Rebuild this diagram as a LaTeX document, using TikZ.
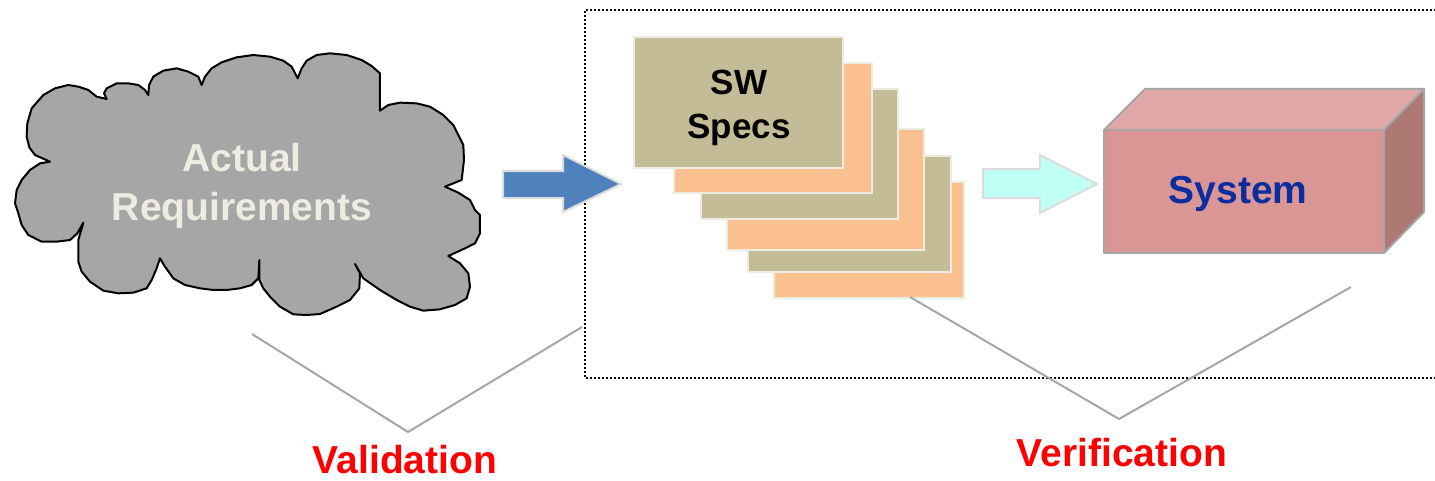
\documentclass[tikz,border=0pt]{standalone}
\usepackage{fontspec}
\setmainfont{Liberation Sans}
\definecolor{cloudgray}{HTML}{A6A6A6}
\definecolor{cream}{HTML}{EEECE1}
\definecolor{olivesheet}{HTML}{C4BC97}
\definecolor{peach}{HTML}{FAC090}
\definecolor{arrowblue}{HTML}{4F81BD}
\definecolor{arrowcyan}{HTML}{C0FFF6}
\definecolor{arrowedge}{HTML}{DCDCDC}
\definecolor{boxfront}{HTML}{D99694}
\definecolor{boxtop}{HTML}{E0A9A7}
\definecolor{boxside}{HTML}{AE7873}
\definecolor{boxedge}{HTML}{A6A6A6}
\definecolor{sysblue}{HTML}{0A2DA0}
\definecolor{vgray}{HTML}{A6A6A6}
\begin{document}
\begin{tikzpicture}[x=0.5pt,y=-0.5pt,
  sheetA/.style={fill=olivesheet,draw=cream,line width=1pt},
  sheetB/.style={fill=peach,draw=cream,line width=1pt},
  vline/.style={draw=vgray,line width=1pt},
  blockarrow/.style={draw=arrowedge,line width=1pt},
  lbl/.style={text=red,inner sep=0pt,anchor=base,font=\bfseries\fontsize{19.5}{23}\selectfont},
  bigtext/.style={align=center,font=\bfseries\fontsize{19.5}{24.5}\selectfont},
  facestyle/.style={draw=boxedge,line width=1pt,line join=round}]
\useasboundingbox (0,0) rectangle (1435,481);

% dotted frame
\draw[dash pattern=on 1pt off 1pt,line width=1.1pt] (1440,10) -- (585,10) -- (585,378) -- (1440,378);

% cloud
\begin{scope}[shift={(0,40)},scale=1/3]
\draw[fill=cloudgray,line width=1pt,line join=round]
 (150,365) -- (105,345) -- (88,322) -- (80,290) -- (82,250) -- (95,205) -- (130,165) -- (165,145) -- (205,135) -- (235,140) -- (265,150) -- (290,170) -- (320,177)
 -- (312,160) -- (320,145) -- (350,130) -- (385,130) -- (415,135) -- (435,150) -- (445,165)
 -- (447,135) -- (460,110) -- (490,92) -- (530,85) -- (565,95) -- (595,110) -- (605,135)
 -- (615,110) -- (635,85) -- (665,67) -- (710,52) -- (760,45) -- (810,50) -- (850,62) -- (875,80) -- (893,115)
 -- (905,85) -- (920,62) -- (950,45) -- (990,40) -- (1040,45) -- (1085,60) -- (1115,78) -- (1140,100) -- (1140,212)
 -- (1165,195) -- (1200,188) -- (1250,190) -- (1290,200) -- (1330,225) -- (1360,255) -- (1375,285) -- (1390,315) -- (1392,360) -- (1385,420) -- (1335,440)
 -- (1375,458) -- (1410,480) -- (1425,510) -- (1440,525) -- (1440,580) -- (1425,610) -- (1395,625) -- (1345,648)
 -- (1380,670) -- (1405,700) -- (1410,740) -- (1400,775) -- (1365,795) -- (1320,808) -- (1270,812) -- (1230,800) -- (1190,780) -- (1140,750) -- (1090,715) -- (1065,672)
 -- (1080,700) -- (1078,745) -- (1050,780) -- (1010,800) -- (960,822) -- (920,825) -- (880,823) -- (840,800) -- (810,770) -- (790,745) -- (778,720) -- (778,660)
 -- (775,715) -- (755,735) -- (720,745) -- (680,750) -- (640,750) -- (600,745) -- (555,735) -- (520,715) -- (495,680) -- (480,655)
 -- (470,685) -- (455,720) -- (440,745) -- (400,758) -- (355,760) -- (310,752) -- (270,725) -- (245,695) -- (235,665) -- (235,600) -- (250,548)
 -- (232,580) -- (210,600) -- (170,605) -- (125,605) -- (85,585) -- (65,555) -- (55,520) -- (45,490) -- (50,450) -- (65,420) -- (90,390) -- (120,370) -- cycle;
\end{scope}
\node[bigtext,text=cream] (req) at (242,186) {Actual\\Requirements};

% blue arrow
\draw[blockarrow,fill=arrowblue] (503,171) -- (563,171) -- (563,155) -- (621,184) -- (563,212) -- (563,198) -- (503,198) -- cycle;

% sheets (back to front)
\path[sheetB] (774,182) rectangle (964,298);
\path[sheetA] (748,156) rectangle (951,272);
\path[sheetB] (727,129) rectangle (924,250);
\path[sheetA] (701,89) rectangle (898,219);
\path[sheetB] (674,63) rectangle (872,193);
\path[sheetA] (634,37) rectangle (843,168);
\node[align=center,font=\bfseries\fontsize{17.5}{22}\selectfont] (specs) at (739,108) {SW\\Specs};

% cyan arrow
\draw[blockarrow,fill=arrowcyan] (983,169) -- (1040,169) -- (1040,155) -- (1097,184) -- (1040,213) -- (1040,198) -- (983,198) -- cycle;

% system box
\draw[facestyle,fill=boxtop] (1104,130) -- (1145,89) -- (1424,89) -- (1384,130) -- cycle;
\draw[facestyle,fill=boxside] (1384,130) -- (1424,89) -- (1424,212) -- (1384,253) -- cycle;
\draw[facestyle,fill=boxfront] (1104,130) rectangle (1384,253);
\node[bigtext,text=sysblue] (sys) at (1238,194) {System};

% validation / verification brackets
\coordinate (va) at (252,334);
\coordinate (vb) at (408,432);
\coordinate (vc) at (582,327);
\draw[vline] (va) -- (vb) -- (vc);
\coordinate (wa) at (910,297);
\coordinate (wb) at (1119,419);
\coordinate (wc) at (1351,287);
\draw[vline] (wa) -- (wb) -- (wc);
\node[lbl] (val) at (405,473) {Validation};
\node[lbl] (ver) at (1122,466) {Verification};
\end{tikzpicture}
\end{document}
